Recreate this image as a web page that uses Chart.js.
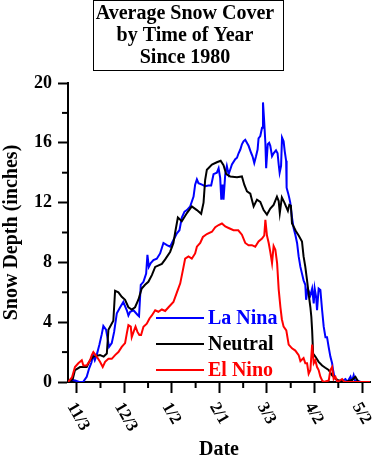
<!DOCTYPE html>
<html>
<head>
<meta charset="utf-8">
<script src="https://cdn.jsdelivr.net/npm/chart.js@4.4.1/dist/chart.umd.min.js"></script>
<style>
    html, body { margin: 0; padding: 0; background: #fff; }
</style>
</head>
<body>
<canvas id="myChart" width="377" height="463"></canvas>
<script>
// x axis is days counted from 11/3
const tickDays = [0, 30, 60, 90, 120, 150, 180]
const tickLabels = ["11/3", "12/3", "1/2", "2/1", "3/3", "4/2", "5/2"]
const allTickDays = [0, 15, 30, 45, 60, 75, 90, 105, 120, 135, 150, 165, 180]

const seriesNames = ["La Nina", "Neutral", "El Nino"]
const seriesColors = ["#0000ff", "#000000", "#ff0000"]

const laNinaDays = [
    -5.5, -3.5, -1, 1.5, 4, 6.3, 7.8, 9.3, 10.3, 11.4,
    12.6, 14.3, 15.8, 16.8, 18.5, 20.4, 22.1, 23.6, 25.3, 27.4,
    29.4, 31.6, 32.6, 33.7, 35.8, 38.3, 39.3, 40.4, 42.1, 43.8,
    44.6, 45.5, 46.7, 48.4, 50.5, 52.6, 54.7, 56.9, 58.9, 61,
    63.2, 64.8, 66.3, 68, 69.5, 71.6, 73.7, 74.7, 75.8, 76.8,
    79, 81, 83.1, 84.8, 86.3, 88.4, 89.5, 90.5, 91.2, 92,
    92.6, 93.7, 94.7, 95.8, 96.8, 97.9, 100, 101.1, 102.1, 103.2,
    104.2, 105.2, 106.3, 108.4, 110.1, 110.9, 112, 113.1, 114.1, 114.7,
    115.8, 116.9, 117.5, 118.1, 119, 119.5, 120.5, 121.4, 122.1, 123.2,
    124.2, 125.7, 126.7, 127.4, 128, 128.9, 129.5, 130.5, 131.2, 132.1,
    132.4, 133.3, 134.1, 134.7, 135.8, 136.8, 137.9, 139, 140, 141.1,
    142.1, 143.1, 144.2, 144.7, 145.7, 147.4, 148.5, 149.5, 150.1, 151,
    151.6, 152.6, 153.7, 154.8, 155.8, 156.9, 157.9, 158.9, 160, 161.1,
    161.7, 162.5, 164.2, 166.3, 169.5, 170.7, 172.7, 173.6, 174.7, 175.8,
    177, 179, 185
]
const laNinaDepth = [
    0, 0.15, 0.1, 0, 0, 0.35, 0.9, 1.3, 1.8, 1.45,
    1.8, 2.5, 3.2, 3.75, 3.5, 2.35, 2.6, 3.35, 4.6, 5.0,
    5.35, 4.8, 4.45, 4.7, 4.8, 4.5, 4.4, 6.5, 6.7, 7.25,
    8.5, 7.7, 7.95, 8.15, 8.25, 8.6, 9.3, 9.15, 9.05, 9.5,
    9.95, 10.15, 11.0, 11.4, 11.5, 11.75, 12.4, 13.2, 13.55, 13.3,
    13.2, 13.1, 13.15, 13.15, 13.9, 14.0, 14.3, 13.65, 12.2, 13.2,
    12.2, 13.9, 14.45, 13.9, 14.2, 14.55, 14.9, 15.0, 15.3, 15.55,
    15.9, 16.1, 16.2, 15.8, 15.3, 15.1, 14.65, 15.1, 15.55, 16.3,
    16.45, 17.0, 18.7, 17.7, 16.0, 14.3, 15.9, 16.0, 15.8, 15.1,
    15.3, 15.5, 15.3, 14.55, 14.0, 14.45, 16.35, 16.1, 15.45, 14.8,
    13.0, 12.65, 12.3, 12.0, 11.0, 10.3, 9.85, 9.3, 8.4, 7.7,
    7.25, 6.8, 6.5, 5.5, 6.25, 5.8, 6.25, 5.25, 6.25, 5.7,
    4.8, 6.25, 6.15, 4.8, 3.7, 3.0, 3.0, 2.35, 1.7, 1.25,
    0.8, 0.35, 0.1, 0, 0.2, 0, 0.35, 0.05, 0.45, 0,
    0.1, 0, 0
]

const neutralDays = [
    -5.5, -2.5, -1.1, 2.1, 6.3, 8.4, 10.5, 14.7, 17, 19,
    20, 23.1, 24.2, 26.3, 28.4, 30.5, 32.6, 34.7, 36.8, 38.9,
    41, 43.1, 45.2, 47.4, 49.5, 53.7, 55.8, 58.9, 61, 62.1,
    63.8, 66.3, 69.5, 72.6, 75.8, 78.5, 80, 81, 82.1, 85.3,
    88.4, 90.8, 92.6, 94.3, 96.8, 101.1, 104.2, 105.7, 107.4, 109.5,
    110.7, 111.6, 113.7, 115.8, 117.9, 120, 122.1, 124.2, 126.3, 127.4,
    128.1, 129.4, 131, 133.2, 134.1, 135.1, 135.8, 136.8, 138.2, 140,
    142.1, 143.1, 144.2, 145.3, 146.3, 147.4, 148, 148.5, 149.1, 150.5,
    152.6, 154.8, 156.8, 158.9, 161.1, 163.2, 165.3, 169.5, 173.9, 175.8,
    177.7, 185
]
const neutralDepth = [
    0, 0.2, 0.8, 1.0, 1.0, 1.45, 1.7, 1.8, 1.7, 1.9,
    3.5, 4.1, 6.1, 6.0, 5.7, 5.5, 5.0, 4.85, 5.0, 5.5,
    6.25, 6.5, 6.7, 7.15, 7.7, 7.9, 8.2, 8.7, 9.3, 10.0,
    11.0, 10.75, 11.3, 11.75, 11.5, 11.25, 12.0, 13.5, 14.2, 14.55,
    14.7, 14.8, 14.5, 13.9, 13.75, 13.7, 13.75, 13.2, 12.75, 12.6,
    12.1, 11.75, 12.2, 12.05, 11.5, 11.2, 11.6, 11.85, 12.4, 12.1,
    11.3, 12.35, 12.0, 11.45, 11.85, 11.8, 10.6, 10.4, 10.1, 9.8,
    9.4, 8.4, 7.7, 6.8, 5.9, 5.0, 4.35, 3.45, 1.9, 1.7,
    1.35, 1.1, 0.95, 0.8, 0.45, 0.23, 0.1, 0, 0.15, 0.35,
    0, 0
]

const elNinoDays = [
    -5.5, -3, -1.1, 1, 3.2, 4.2, 6.3, 8.4, 9.5, 10.5,
    12.6, 14.7, 16.4, 17.9, 20, 22.1, 24.2, 26.3, 28.4, 30.5,
    31.6, 32.6, 34.1, 34.7, 36.2, 37.1, 38.3, 39.5, 40.6, 42.1,
    44.2, 45.9, 47.4, 49.5, 51.5, 53.7, 55.8, 57.9, 61, 63.2,
    65.3, 67, 68.4, 70.5, 72.6, 74.7, 75.8, 77.9, 79.6, 82.1,
    85.3, 87.4, 89.5, 91.6, 93.7, 95.8, 98.9, 101.9, 104.2, 106.3,
    108.4, 110.5, 112.6, 114.7, 116.9, 118.3, 119, 120, 121.1, 122.1,
    123.2, 124.2, 125.3, 126.4, 127.4, 128.5, 129.4, 130.5, 132.2, 133.7,
    135.8, 137.9, 140, 141.1, 143.1, 144.2, 145.3, 146.3, 147.4, 148.5,
    149.5, 150.5, 151.6, 152.6, 153.7, 154.8, 155.8, 159, 160, 161.1,
    162.1, 163.2, 164.4, 167.4, 168.9, 185
]
const elNinoDepth = [
    0, 0.3, 1.0, 1.25, 1.45, 1.1, 1.1, 1.45, 1.8, 2.0,
    1.7, 1.35, 1.0, 1.35, 1.55, 1.55, 1.8, 2.0, 2.35, 2.6,
    3.25, 3.8, 3.7, 3.0, 3.45, 3.7, 3.35, 3.15, 3.15, 3.7,
    3.9, 4.25, 4.45, 4.8, 4.7, 4.85, 4.75, 5.0, 5.35, 6.0,
    6.6, 7.5, 8.25, 8.4, 8.25, 8.6, 9.05, 9.3, 9.7, 9.9,
    10.05, 10.35, 10.5, 10.6, 10.4, 10.3, 10.15, 10.15, 9.85, 9.3,
    9.15, 9.15, 9.05, 9.4, 9.6, 9.8, 10.85, 9.8, 9.3, 8.7,
    7.95, 9.1, 8.85, 7.95, 6.2, 5.0, 4.2, 3.7, 3.45, 2.5,
    2.25, 2.1, 1.8, 1.4, 1.6, 1.25, 1.25, 0.55, 0.8, 2.5,
    1.25, 1.45, 1.0, 0.8, 0.35, 0.1, 0, 0.1, 0.8, 1.0,
    0.2, 0.35, 0, 0.2, 0, 0
]

const serif = "'Liberation Serif', 'Times New Roman', serif"

function toPoints(days, depth) {
    return days.map((d, ix) => ({ x: d, y: depth[ix] }))
}

const decorations = {
    id: "decorations",
    afterDraw(chart) {
        const ctx = chart.ctx
        const { x, y } = chart.scales
        const area = chart.chartArea

        ctx.save()
        ctx.strokeStyle = "#000"
        ctx.lineWidth = 2

        // short minor ticks
        allTickDays.filter(d => d % 30 !== 0).forEach(d => {
            const px = x.getPixelForValue(d)
            ctx.beginPath()
            ctx.moveTo(px, area.bottom)
            ctx.lineTo(px, area.bottom + 6)
            ctx.stroke()
        })
        for (let v = 2; v <= 20; v += 4) {
            const py = y.getPixelForValue(v)
            ctx.beginPath()
            ctx.moveTo(area.left, py)
            ctx.lineTo(area.left - 6, py)
            ctx.stroke()
        }

        // rotated date labels
        ctx.fillStyle = "#000"
        ctx.font = "bold 17px " + serif
        ctx.textAlign = "left"
        ctx.textBaseline = "middle"
        tickDays.forEach((d, ix) => {
            const px = x.getPixelForValue(d)
            ctx.save()
            ctx.translate(px - 6, area.bottom + 22)
            ctx.rotate(Math.PI / 3)
            ctx.fillText(tickLabels[ix], 0, 0)
            ctx.restore()
        })

        // legend inside the plot
        ctx.font = "bold 20px " + serif
        seriesNames.forEach((name, ix) => {
            const ly = 318 + ix * 26
            ctx.strokeStyle = seriesColors[ix]
            ctx.beginPath()
            ctx.moveTo(156, ly)
            ctx.lineTo(204, ly)
            ctx.stroke()
            ctx.fillStyle = seriesColors[ix]
            ctx.fillText(name, 208, ly + 1)
        })

        // box round the title
        ctx.strokeStyle = "#000"
        ctx.lineWidth = 1
        ctx.strokeRect(93.5, 0.5, 190, 70)
        ctx.restore()
    }
}

const chartEl = document.getElementById("myChart")

const chart = new Chart(chartEl, {
    type: "line",
    data: {
        datasets: [
            {
                label: seriesNames[0],
                data: toPoints(laNinaDays, laNinaDepth),
                borderColor: seriesColors[0],
                order: 2,
            },
            {
                label: seriesNames[1],
                data: toPoints(neutralDays, neutralDepth),
                borderColor: seriesColors[1],
                order: 1,
            },
            {
                label: seriesNames[2],
                data: toPoints(elNinoDays, elNinoDepth),
                borderColor: seriesColors[2],
                order: 0,
            },
        ]
    },
    options: {
        responsive: false,
        animation: false,
        devicePixelRatio: 1,
        layout: { padding: { left: 0, right: 7, top: 0, bottom: 0 } },
        elements: {
            line: { borderWidth: 2, tension: 0, fill: false },
            point: { radius: 0 }
        },
        scales: {
            x: {
                type: "linear",
                min: -5.5,
                max: 185,
                afterBuildTicks(scale) {
                    scale.ticks = allTickDays.map(v => ({ value: v }))
                },
                afterFit(scale) { scale.height = 81 },
                ticks: { display: false },
                grid: {
                    display: true,
                    drawOnChartArea: false,
                    drawTicks: true,
                    tickLength: 11,
                    tickWidth: 2,
                    tickColor: c => (c.tick && c.tick.value % 30 === 0) ? "#000" : "rgba(0,0,0,0)"
                },
                border: { display: true, color: "#000", width: 2 },
                title: {
                    display: true,
                    text: "Date",
                    color: "#000",
                    font: { family: serif, size: 20, weight: "bold" },
                    padding: { top: 0, bottom: 1 }
                }
            },
            y: {
                min: 0,
                max: 20,
                afterFit(scale) { scale.width = 68 },
                ticks: {
                    stepSize: 2,
                    autoSkip: false,
                    padding: 6,
                    color: "#000",
                    font: { family: serif, size: 18, weight: "bold" },
                    callback: v => v % 4 === 0 ? v : ""
                },
                grid: {
                    display: true,
                    drawOnChartArea: false,
                    drawTicks: true,
                    tickLength: 10,
                    tickWidth: 2,
                    tickColor: c => (c.tick && c.tick.value % 4 === 0) ? "#000" : "rgba(0,0,0,0)"
                },
                border: { display: true, color: "#000", width: 2 },
                title: {
                    display: true,
                    text: "Snow Depth (inches)",
                    color: "#000",
                    font: { family: serif, size: 20, weight: "bold" },
                    padding: { top: 0, bottom: 0 }
                }
            }
        },
        plugins: {
            legend: { display: false },
            tooltip: { enabled: false },
            title: {
                display: true,
                text: ["Average Snow Cover", "by Time of Year", "Since 1980"],
                color: "#000",
                font: { family: serif, size: 20, weight: "bold", lineHeight: "22px" },
                padding: { top: 3, bottom: 14 }
            }
        }
    },
    plugins: [decorations]
})
</script>
</body>
</html>
